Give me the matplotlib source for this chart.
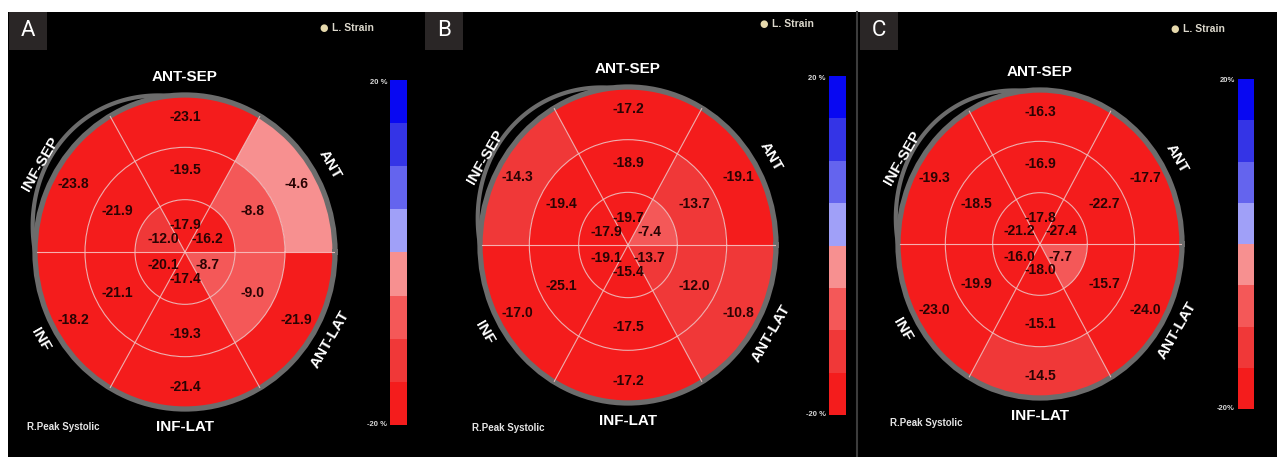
import numpy as np
import matplotlib
matplotlib.use("Agg")
import matplotlib.pyplot as plt
from matplotlib.colors import ListedColormap, BoundaryNorm
from matplotlib.patches import Rectangle
from matplotlib.lines import Line2D

# ---------------- data ----------------
segments = ["ANT-SEP", "ANT", "ANT-LAT", "INF-LAT", "INF", "INF-SEP"]
panel_letters = ["A", "B", "C"]

basal_A = [-23.1, -4.6, -21.9, -21.4, -18.2, -23.8]
mid_A = [-19.5, -8.8, -9.0, -19.3, -21.1, -21.9]
apical_A = [-17.9, -16.2, -8.7, -17.4, -20.1, -12.0]

basal_B = [-17.2, -19.1, -10.8, -17.2, -17.0, -14.3]
mid_B = [-18.9, -13.7, -12.0, -17.5, -25.1, -19.4]
apical_B = [-19.7, -7.4, -13.7, -15.4, -19.1, -17.9]

basal_C = [-16.3, -17.7, -24.0, -14.5, -23.0, -19.3]
mid_C = [-16.9, -22.7, -15.7, -15.1, -19.9, -18.5]
apical_C = [-17.8, -27.4, -7.7, -18.0, -16.0, -21.2]

scale_levels = [-20, -15, -10, -5, 0, 5, 10, 15, 20]
scale_labels_A = ["20 %", "-20 %"]
scale_labels_B = ["20 %", "-20 %"]
scale_labels_C = ["20%", "-20%"]
legend_label = "L. Strain"
view_label = "R.Peak Systolic"

# ---------------- style / layout ----------------
W, H = 1277, 457
band_colors = ["#f41c1c", "#f03838", "#f45858", "#f79090",
               "#a0a0f8", "#6464ee", "#3434e6", "#0808f2"]
cmap = ListedColormap(band_colors)
norm = BoundaryNorm(scale_levels, cmap.N, clip=True)

seg_angles = [90, 30, 330, 270, 210, 150]
label_rot = [0, -60, 60, 0, -60, 60]
ring_bottoms = [2 / 3, 1 / 3, 0.0]
text_r = [0.86, 0.52, 0.17]
ring_color = "#6c6c6c"
grid_color = "#f7c0c0"
value_color = "#2a0303"
SANS = ["Liberation Sans", "DejaVu Sans"]

panels = [
    dict(letter="A", rings=[basal_A, mid_A, apical_A], scale=scale_labels_A,
         cx=185, cy=252, rx=150, ry=157, box=(9, 47),
         cbar=(390, 407, 80, 425), dot=(324, 28), view=(27, 427)),
    dict(letter="B", rings=[basal_B, mid_B, apical_B], scale=scale_labels_B,
         cx=628, cy=245, rx=148, ry=158, box=(425, 463),
         cbar=(829, 846, 76, 415), dot=(764, 24), view=(472, 428)),
    dict(letter="C", rings=[basal_C, mid_C, apical_C], scale=scale_labels_C,
         cx=1040, cy=244, rx=142, ry=154, box=(860, 898),
         cbar=(1238, 1254, 79, 409), dot=(1175, 29), view=(890, 423)),
]


def fx(x):
    return x / W


def fy(y):
    return 1 - y / H


fig = plt.figure(figsize=(W / 100, H / 100), dpi=100, facecolor="white")

# black panel background
fig.patches.append(Rectangle((fx(8), 0), 1 - fx(8), fy(12), transform=fig.transFigure,
                             facecolor="black", edgecolor="none", zorder=-10))
fig.add_artist(Line2D([fx(857), fx(857)], [0, fy(12)], transform=fig.transFigure,
                      color="#3c3c3c", lw=1.5, zorder=-5))

for p in panels:
    cx, cy, rx, ry = p["cx"], p["cy"], p["rx"], p["ry"]
    ax = fig.add_axes([fx(cx - rx), fy(cy + ry), 2 * rx / W, 2 * ry / H],
                      projection="polar")
    ax.set_aspect("auto")
    ax.set_facecolor("black")
    theta = np.deg2rad(seg_angles)
    for vals, bottom, tr in zip(p["rings"], ring_bottoms, text_r):
        ax.bar(theta, 1 / 3, width=np.deg2rad(60), bottom=bottom,
               color=cmap(norm(np.array(vals))), edgecolor="none", linewidth=0,
               align="center", zorder=1)
        for t, v in zip(theta, vals):
            ax.text(t, tr, f"{v:.1f}", ha="center", va="center", fontsize=10,
                    fontweight="bold", color=value_color, family=SANS, zorder=4)
    # region names
    for t, name, rot in zip(theta, segments, label_rot):
        ax.text(t, 1.115, name, ha="center", va="center", rotation=rot,
                rotation_mode="anchor", fontsize=11, fontweight="bold",
                color="white", family=SANS, clip_on=False, zorder=5)
    # extra grey arc on the upper left (decorative outline of the tracing)
    th = np.linspace(96, 180, 120)
    ax.plot(np.deg2rad(th), 1 + 0.085 * np.sin(np.pi * (th - 96) / 84),
            color=ring_color, lw=3.0, clip_on=False, zorder=3,
            solid_capstyle="round")
    ax.set_xticks(np.deg2rad([0, 60, 120, 180, 240, 300]))
    ax.set_xticklabels([])
    ax.set_yticks([1 / 3, 2 / 3])
    ax.set_yticklabels([])
    ax.set_axisbelow(False)
    ax.grid(True, color=grid_color, lw=0.8, alpha=0.9)
    ax.tick_params(length=0)
    ax.spines["polar"].set_color(ring_color)
    ax.spines["polar"].set_linewidth(3.8)
    ax.set_ylim(0, 1)

    # panel letter box
    x0, x1 = p["box"]
    fig.patches.append(Rectangle((fx(x0), fy(50)), (x1 - x0) / W, 38 / H,
                                 transform=fig.transFigure, facecolor="#2a2626",
                                 edgecolor="none", zorder=1))
    fig.text(fx((x0 + x1) / 2), fy(31), p["letter"], ha="center", va="center",
             fontsize=16, color="white", family=["Roboto", "DejaVu Sans"])

    # legend
    dx, dy = p["dot"]
    fig.text(fx(dx), fy(dy), "\u25cf", ha="center", va="center", fontsize=7,
             color="#e6d9ac", family=["DejaVu Sans"])
    fig.text(fx(dx + 8), fy(dy), legend_label, ha="left", va="center",
             fontsize=7.5, color="#dcd8cc", family=SANS, fontweight="bold")

    # view label
    vx, vy = p["view"]
    fig.text(fx(vx), fy(vy), view_label, ha="left", va="center", fontsize=7,
             color="#e4e4e4", family=SANS, fontweight="bold")

    # colour scale
    bx0, bx1, by0, by1 = p["cbar"]
    cax = fig.add_axes([fx(bx0), fy(by1), (bx1 - bx0) / W, (by1 - by0) / H])
    mids = np.array([(a + b) / 2 for a, b in zip(scale_levels[:-1], scale_levels[1:])])
    cax.pcolormesh([0, 1], scale_levels, mids.reshape(-1, 1), cmap=cmap, norm=norm)
    cax.set_xlim(0, 1)
    cax.set_ylim(scale_levels[0], scale_levels[-1])
    cax.set_axis_off()
    fig.text(fx(bx0 - 3), fy(by0 + 2), p["scale"][0], ha="right", va="center",
             fontsize=5.5, color="#d8d8d8", family=SANS, fontweight="bold")
    fig.text(fx(bx0 - 3), fy(by1), p["scale"][1], ha="right", va="center",
             fontsize=5.5, color="#d8d8d8", family=SANS, fontweight="bold")

fig.savefig("out.png", dpi=100, facecolor="white")
